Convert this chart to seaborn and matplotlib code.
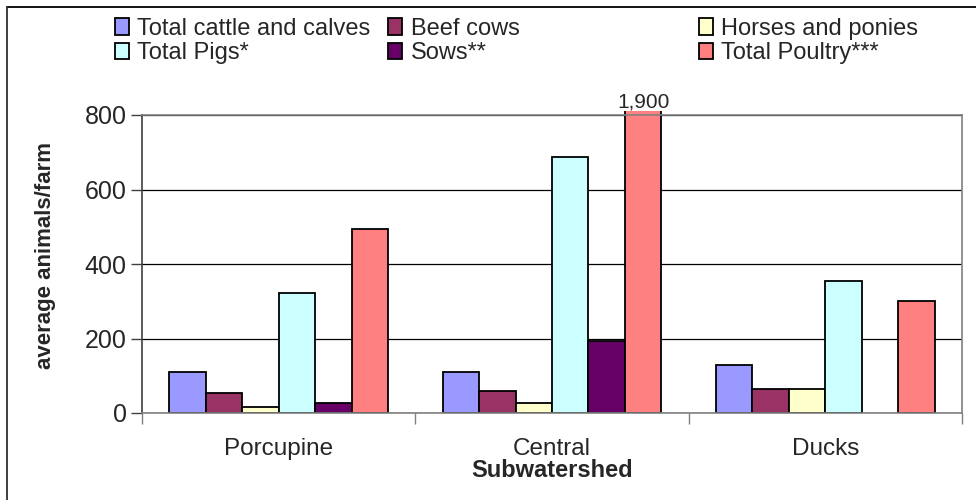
import numpy as np
import pandas as pd
import matplotlib
matplotlib.use("Agg")
import matplotlib.pyplot as plt
from matplotlib.lines import Line2D
from matplotlib.patches import Rectangle
import seaborn as sns

# Average animals per farm by subwatershed
subwatersheds = ["Porcupine", "Central", "Ducks"]
series = ["Total cattle and calves", "Beef cows", "Horses and ponies",
          "Total Pigs*", "Sows**", "Total Poultry***"]
cattle = [111, 111, 128]
beef = [53, 59, 64]
horses = [16, 26, 64]
pigs = [321, 686, 354]
sows = [26, 194, np.nan]
poultry = [493, 1900, 300]
colors = ["#9999FF", "#993366", "#FFFFCC", "#CCFFFF", "#660066", "#FF8080"]

rows = []
for name, vals in zip(series, [cattle, beef, horses, pigs, sows, poultry]):
    for sw, v in zip(subwatersheds, vals):
        rows.append({"Subwatershed": sw, "Series": name, "value": v})
df = pd.DataFrame(rows)

sns.set_style("white")
plt.rcParams["font.family"] = ["Liberation Sans", "DejaVu Sans"]

fig = plt.figure(figsize=(9.76, 5.0), dpi=100)
ax = fig.add_axes([0.1455, 0.174, 0.8402, 0.596])

sns.barplot(data=df, x="Subwatershed", y="value", hue="Series",
            hue_order=series, palette=colors, order=subwatersheds,
            edgecolor="black", linewidth=1.3, saturation=1, ax=ax,
            errorbar=None, legend=True)

ax.set_ylim(0, 800)
ax.set_xlim(-0.5, 2.5)
ax.set_yticks([0, 200, 400, 600, 800])
ax.yaxis.grid(True, color="black", linewidth=0.9)
ax.set_axisbelow(True)

# bars may poke slightly above the plot area (the clipped 1,900 bar)
clip = Rectangle((0, 0), 1, 1.013, transform=ax.transAxes, visible=False)
ax.add_patch(clip)
for p in ax.patches:
    if p is not clip:
        p.set_clip_path(clip)

# label for the off-scale bar
for cont, name in zip(ax.containers, series):
    for bar, v in zip(cont, df[df["Series"] == name]["value"]):
        if v > 800:
            ax.annotate(f"{int(v):,}", xy=(bar.get_x() + bar.get_width() / 2, 1.013),
                        xycoords=("data", "axes fraction"), xytext=(0, 0),
                        textcoords="offset points", ha="center", va="bottom",
                        fontsize=15)

for s in ["top", "right", "bottom"]:
    ax.spines[s].set_color("#808080")
    ax.spines[s].set_linewidth(1.2)
ax.spines["left"].set_color("#404040")
ax.spines["left"].set_linewidth(1.2)

ax.tick_params(axis="y", labelsize=18, length=8, width=1, color="#404040",
               left=True, pad=3)
ax.set_xticks([-0.5, 0.5, 1.5, 2.5], minor=True)
ax.tick_params(axis="x", which="major", length=0, labelsize=17.5, pad=18)
ax.tick_params(axis="x", which="minor", length=8, width=1, color="#808080",
               bottom=True)

ax.set_ylabel("average animals/farm", fontsize=16, fontweight="bold")
ax.yaxis.set_label_coords(-0.105, 0.53)
ax.set_xlabel("Subwatershed", fontsize=17, fontweight="bold", labelpad=-1)

handles, labels = ax.get_legend_handles_labels()
ax.get_legend().remove()
xs = [0.108, 0.388, 0.706]
for i, x0 in enumerate(xs):
    fig.legend([handles[i], handles[i + 3]], [labels[i], labels[i + 3]],
               loc="upper left", bbox_to_anchor=(x0, 0.983), ncol=1,
               frameon=False, fontsize=17, handlelength=0.6, handleheight=0.7,
               handletextpad=0.35, labelspacing=0.1, borderaxespad=0)

# outer chart border (top and left edges visible)
fig.add_artist(Line2D([0.007, 1.0], [0.986, 0.986], color="black", linewidth=1.3,
                      transform=fig.transFigure))
fig.add_artist(Line2D([0.007, 0.007], [0.0, 0.986], color="#303030", linewidth=1.3,
                      transform=fig.transFigure))

fig.savefig("out.png", dpi=100)
